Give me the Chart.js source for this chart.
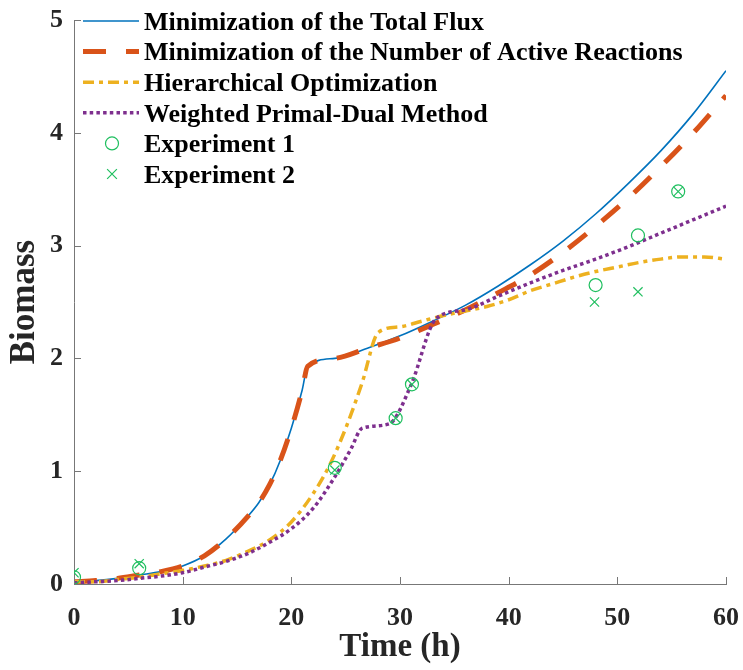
<!DOCTYPE html>
<html>
<head>
<meta charset="utf-8">
<script src="https://cdn.jsdelivr.net/npm/chart.js@4.4.1/dist/chart.umd.min.js"></script>
<style>
html, body { margin: 0; padding: 0; background: #fff; }
#wrap { width: 743px; height: 670px; }
</style>
</head>
<body>
<div id="wrap"><canvas id="g_biomass"></canvas></div>
<script>
// Eixos
const xTicks = [0, 10, 20, 30, 40, 50, 60];
const yTicks = [0, 1, 2, 3, 4, 5];

// Minimization of the Total Flux
const fluxX = [0, 2, 4, 6, 8, 10, 12, 14, 16, 17, 18, 19, 20, 21, 21.5, 24, 27, 30, 33, 36, 39, 42, 45, 48, 51, 54, 57, 60];
const fluxY = [0.02, 0.03, 0.05, 0.08, 0.11, 0.16, 0.25, 0.4, 0.6, 0.72, 0.88, 1.1, 1.38, 1.72, 1.93, 2.0, 2.09, 2.2, 2.33, 2.47, 2.64, 2.83, 3.04, 3.28, 3.55, 3.84, 4.17, 4.55];

// Minimization of the Number of Active Reactions
const activeX = [0, 2, 4, 6, 8, 10, 12, 14, 16, 17, 18, 19, 20, 21, 21.5, 24, 27, 30, 33, 36, 39, 42, 45, 48, 51, 54, 57, 60];
const activeY = [0.02, 0.03, 0.05, 0.08, 0.11, 0.16, 0.25, 0.4, 0.6, 0.72, 0.88, 1.1, 1.38, 1.72, 1.93, 2.0, 2.09, 2.18, 2.3, 2.43, 2.58, 2.74, 2.94, 3.17, 3.42, 3.7, 4.0, 4.33];

// Hierarchical Optimization
const hierX = [0, 2, 4, 6, 8, 10, 12, 14, 16, 18, 20, 22, 23.5, 25, 26.5, 28, 30, 32, 34, 36, 38, 40, 42, 44, 46, 48, 50, 52, 54, 56, 58, 60];
const hierY = [0.02, 0.02, 0.04, 0.06, 0.09, 0.12, 0.16, 0.21, 0.29, 0.39, 0.55, 0.8, 1.05, 1.38, 1.78, 2.23, 2.28, 2.33, 2.38, 2.42, 2.46, 2.52, 2.6, 2.66, 2.72, 2.77, 2.81, 2.85, 2.88, 2.9, 2.9, 2.88];

// Weighted Primal-Dual Method
const wpdX = [0, 2, 4, 6, 8, 10, 12, 14, 16, 18, 20, 22, 24, 25.5, 26.5, 29, 31, 33.3, 36, 39, 42, 45, 48, 51, 54, 57, 60];
const wpdY = [0.01, 0.02, 0.03, 0.05, 0.07, 0.1, 0.15, 0.2, 0.27, 0.37, 0.49, 0.67, 0.95, 1.2, 1.38, 1.42, 1.76, 2.35, 2.43, 2.55, 2.67, 2.78, 2.88, 2.99, 3.11, 3.23, 3.35];

// Experimentos
const exp1X = [0, 6, 24, 29.6, 31.1, 48, 51.9, 55.6];
const exp1Y = [0.06, 0.14, 1.03, 1.47, 1.77, 2.65, 3.09, 3.48];
const exp2X = [0, 6, 24, 29.6, 31.1, 47.9, 51.9, 55.6];
const exp2Y = [0.1, 0.18, 1.01, 1.47, 1.77, 2.5, 2.59, 3.48];

const pontos = (xs, ys) => xs.map((v, i) => ({x: v, y: ys[i]}));

const verde = '#1FBF5F';
const serif = '"Liberation Serif", "Times New Roman", serif';
Chart.defaults.font.family = serif;
Chart.defaults.font.weight = 'bold';

// ticks para dentro, como no MATLAB
const ticksDentro = {
    id: 'ticksDentro',
    afterDraw(chart) {
        const {ctx, scales: {x, y}} = chart;
        ctx.save();
        ctx.strokeStyle = '#777';
        ctx.lineWidth = 1;
        ctx.beginPath();
        xTicks.forEach(v => {
            const px = Math.round(x.getPixelForValue(v)) + 0.5;
            ctx.moveTo(px, y.bottom);
            ctx.lineTo(px, y.bottom - 7);
        });
        yTicks.forEach(v => {
            const py = Math.round(y.getPixelForValue(v)) + 0.5;
            ctx.moveTo(x.left, py);
            ctx.lineTo(x.left + 7, py);
        });
        ctx.stroke();
        ctx.restore();
    }
};

// legenda dentro do grafico
const legenda = {
    id: 'legenda',
    afterDraw(chart) {
        const ctx = chart.ctx;
        const left = chart.chartArea.left;
        ctx.save();
        ctx.font = 'bold 26px ' + serif;
        ctx.textBaseline = 'middle';
        chart.data.datasets.forEach((ds, i) => {
            const yy = 21 + i * 30.6;
            ctx.strokeStyle = ds.borderColor;
            if (ds.showLine) {
                ctx.lineWidth = ds.borderWidth;
                ctx.lineCap = 'butt';
                ctx.setLineDash(ds.borderDash || []);
                ctx.beginPath();
                ctx.moveTo(left + 9, yy);
                ctx.lineTo(left + 65, yy);
                ctx.stroke();
                ctx.setLineDash([]);
            } else {
                const cx = left + 38;
                ctx.lineWidth = 1.2;
                ctx.beginPath();
                if (ds.pointStyle === 'circle') {
                    ctx.arc(cx, yy, ds.pointRadius, 0, Math.PI * 2);
                } else {
                    const r = ds.pointRadius * 0.75;
                    ctx.moveTo(cx - r, yy - r); ctx.lineTo(cx + r, yy + r);
                    ctx.moveTo(cx - r, yy + r); ctx.lineTo(cx + r, yy - r);
                }
                ctx.stroke();
            }
            ctx.fillStyle = '#000';
            ctx.fillText(ds.label, left + 70, yy + 2);
        });
        ctx.restore();
    }
};

const linha = (label, xs, ys, cor, larg, dash, ordem) => ({
    label: label,
    data: pontos(xs, ys),
    showLine: true,
    borderColor: cor,
    backgroundColor: cor,
    borderWidth: larg,
    borderDash: dash,
    borderCapStyle: 'butt',
    pointRadius: 0,
    cubicInterpolationMode: 'monotone',
    order: ordem
});

const ctx = document.getElementById('g_biomass').getContext('2d');
const g_biomass = new Chart(ctx, {
    type: 'scatter',
    data: {
        datasets: [
            linha('Minimization of the Total Flux', fluxX, fluxY, '#0072BD', 1.6, [], 6),
            linha('Minimization of the Number of Active Reactions', activeX, activeY, '#D95319', 5, [23, 20], 5),
            linha('Hierarchical Optimization', hierX, hierY, '#EDB120', 3.5, [11, 5, 4, 5], 4),
            linha('Weighted Primal-Dual Method', wpdX, wpdY, '#7E2F8E', 3.5, [3.5, 3.2], 3),
            {
                label: 'Experiment 1',
                data: pontos(exp1X, exp1Y),
                pointStyle: 'circle',
                pointRadius: 6.5,
                borderColor: verde,
                backgroundColor: 'rgba(0,0,0,0)',
                borderWidth: 1.2,
                order: 2
            },
            {
                label: 'Experiment 2',
                data: pontos(exp2X, exp2Y),
                pointStyle: 'crossRot',
                pointRadius: 6.5,
                borderColor: verde,
                backgroundColor: verde,
                borderWidth: 1.2,
                order: 1
            }
        ]
    },
    options: {
        responsive: true,
        maintainAspectRatio: false,
        animation: false,
        layout: { padding: { left: 0, right: 17, top: 20, bottom: 0 } },
        plugins: { legend: { display: false }, tooltip: { enabled: false } },
        scales: {
            x: {
                type: 'linear',
                min: 0, max: 60,
                afterBuildTicks: s => { s.ticks = xTicks.map(v => ({value: v})); },
                afterFit: s => { s.height = 86; s.paddingLeft = 0; s.paddingRight = 0; },
                grid: { display: false, drawTicks: false },
                border: { display: true, color: '#777', width: 1 },
                ticks: { color: '#262626', padding: 19, font: { size: 26, weight: 'bold' } },
                title: { display: true, text: 'Time (h)', color: '#262626', padding: { top: 0, bottom: 3 }, font: { size: 33, weight: 'bold' } }
            },
            y: {
                type: 'linear',
                min: 0, max: 5,
                afterBuildTicks: s => { s.ticks = yTicks.map(v => ({value: v})); },
                afterFit: s => { s.width = 74; s.paddingTop = 0; s.paddingBottom = 0; },
                grid: { display: false, drawTicks: false },
                border: { display: true, color: '#777', width: 1 },
                ticks: { color: '#262626', padding: 11, font: { size: 26, weight: 'bold' } },
                title: { display: true, text: 'Biomass', color: '#262626', padding: { top: 4, bottom: 0 }, font: { size: 35, weight: 'bold' } }
            }
        }
    },
    plugins: [ticksDentro, legenda]
});
</script>
</body>
</html>
